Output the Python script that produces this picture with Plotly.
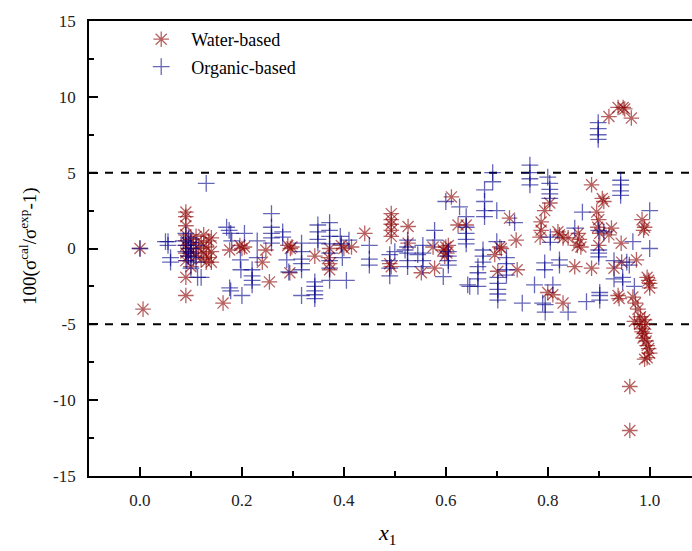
import plotly.graph_objects as go

# ---------------- data ----------------
water_x = [0.0, 0.006,
           0.09, 0.09, 0.09, 0.09, 0.09, 0.09, 0.09, 0.09, 0.09, 0.09,
           0.10, 0.10, 0.105, 0.11, 0.11, 0.115, 0.12, 0.12, 0.125, 0.125,
           0.13, 0.13, 0.135, 0.135, 0.14, 0.14, 0.14, 0.10, 0.095, 0.095,
           0.163, 0.176, 0.196, 0.20, 0.205, 0.24, 0.247, 0.254,
           0.29, 0.295, 0.298, 0.294,
           0.343, 0.37, 0.372, 0.372, 0.372,
           0.395, 0.40, 0.415, 0.441,
           0.493, 0.493, 0.493, 0.493, 0.493, 0.493, 0.49,
           0.526, 0.526, 0.552, 0.575, 0.578,
           0.595, 0.598, 0.60, 0.602, 0.605,
           0.611, 0.624, 0.64,
           0.706, 0.709, 0.696, 0.702, 0.725, 0.738, 0.74,
           0.794, 0.804, 0.787, 0.787, 0.785,
           0.80, 0.81, 0.82, 0.823, 0.83, 0.84, 0.83,
           0.853, 0.86, 0.862, 0.858, 0.865,
           0.886, 0.886, 0.896, 0.90, 0.898, 0.902, 0.907, 0.91,
           0.92, 0.90, 0.925, 0.944, 0.93, 0.945, 0.974,
           0.92, 0.938, 0.948, 0.951, 0.964,
           0.938, 0.94,
           0.985, 0.99, 0.988,
           0.995, 1.0, 1.0, 0.998,
           0.967, 0.972, 0.977, 0.982, 0.97, 0.98, 0.985, 0.99, 0.987,
           0.993, 0.995, 0.998, 1.0, 0.995, 0.99, 0.985, 0.992, 0.99,
           0.961, 0.961]
water_y = [0.0, -4.0,
           2.4, 2.1, 1.5, 0.9, 0.5, 0.2, -0.3, -0.8, -1.9, -3.1,
           0.6, -0.2, 0.3, -0.5, 0.8, 0.0, -0.7, 0.4, 0.9, -0.3,
           0.1, -0.9, 0.5, -0.6, 0.7, -0.2, -0.9, -1.2, -0.5, 0.0,
           -3.6, -0.1, 0.2, 0.0, 0.1, -0.9, -0.1, -2.2,
           0.2, 0.0, 0.1, -1.6,
           -0.5, -0.6, -1.0, -1.4, 0.0,
           0.2, 0.0, 0.1, 1.0,
           2.3, 1.9, 1.6, 1.2, 0.8, -1.2, -1.0,
           1.45, 0.35, -1.6, 0.1, -1.3,
           -0.1, -0.5, 0.1, -0.3, 0.2,
           3.4, 1.55, 1.55,
           0.1, 0.0, -0.4, -1.5, 2.0, 0.55, -1.4,
           2.5, 3.0, 1.75, 1.2, 0.75,
           -2.9, -3.05, 1.1, 0.9, 0.7, 0.7, -3.6,
           -1.2, 1.0, 0.6, 0.2, 0.1,
           4.2, -1.3, 2.4, 1.9, 1.4, 1.0, 3.3, 3.1,
           0.9, 0.2, 1.35, 0.35, -1.3, -0.9, -0.75,
           8.7, 9.3, 9.3, 9.2, 8.6,
           -3.1, -3.3,
           1.9, 1.4, 1.2,
           -1.9, -2.3, -2.6, -2.1,
           -3.2, -3.6, -4.0, -4.5, -4.8, -5.0, -5.3, -5.6, -5.9,
           -6.1, -6.4, -6.6, -6.9, -7.2, -7.3, -5.5, -5.0, -4.7,
           -9.1, -12.0]

organic_x = [0.0,
             0.05, 0.055, 0.055, 0.06, 0.06,
             0.085, 0.09, 0.09, 0.095, 0.095, 0.10, 0.10, 0.10, 0.105, 0.11,
             0.11, 0.113, 0.12, 0.09, 0.092, 0.10,
             0.13,
             0.17, 0.175, 0.178, 0.18, 0.205, 0.197, 0.198, 0.176, 0.178, 0.20,
             0.22, 0.22, 0.22, 0.22, 0.23, 0.23,
             0.258, 0.258, 0.258, 0.258, 0.258,
             0.28, 0.28, 0.288, 0.292,
             0.317, 0.317, 0.317, 0.317, 0.317, 0.317,
             0.343, 0.343, 0.343, 0.343, 0.343,
             0.349, 0.349, 0.349, 0.349,
             0.372, 0.372, 0.372, 0.372, 0.372, 0.372, 0.372, 0.372,
             0.393, 0.395, 0.397, 0.405, 0.41,
             0.45, 0.45, 0.45,
             0.49, 0.49, 0.49, 0.49, 0.50,
             0.525, 0.525, 0.525, 0.525, 0.525, 0.52, 0.545,
             0.555, 0.555, 0.555, 0.555,
             0.578, 0.578, 0.595,
             0.605, 0.605, 0.605, 0.605,
             0.60, 0.627,
             0.64, 0.64, 0.64, 0.64, 0.643, 0.64,
             0.647, 0.663, 0.663, 0.663, 0.663, 0.673, 0.673, 0.673,
             0.676, 0.676, 0.676, 0.676, 0.692, 0.692, 0.70, 0.70,
             0.702, 0.702, 0.702, 0.702, 0.702,
             0.719, 0.719, 0.719, 0.719, 0.735, 0.75,
             0.765, 0.765, 0.765, 0.765,
             0.774, 0.79, 0.794, 0.794, 0.795, 0.795,
             0.80, 0.804, 0.804, 0.804, 0.804, 0.805, 0.805,
             0.81, 0.823, 0.823, 0.84, 0.853, 0.868, 0.876,
             0.899, 0.899, 0.899, 0.899,
             0.90, 0.91, 0.90, 0.90, 0.90, 0.902, 0.902, 0.902,
             0.93, 0.93, 0.943, 0.943, 0.943, 0.943,
             0.947, 0.947, 0.955, 0.96, 0.967, 0.97,
             1.0, 1.0]
organic_y = [0.0,
             0.45, 0.45, 0.2, -0.6, -0.9,
             0.5, 0.2, -0.2, 0.7, -0.5, 0.4, 0.0, -0.3, -0.6, 0.2,
             -0.9, -1.9, -1.9, 1.0, -0.8, -1.3,
             4.3,
             1.4, 1.2, 1.0, 0.5, 1.0, -0.75, -1.4, -2.6, -2.8, -3.1,
             -1.4, -1.8, -2.1, -2.4, 0.5, -0.6,
             2.3, 1.4, 1.0, 0.7, 0.35,
             1.1, 0.75, -0.75, -1.55,
             0.35, -0.2, -0.7, -1.0, -1.4, -3.1,
             -2.2, -2.5, -2.8, -3.05, -3.3,
             1.55, 1.1, 0.6, 0.35,
             1.7, 1.2, 0.8, 0.3, -0.3, -0.8, -1.3, -2.1,
             0.8, 0.3, -0.6, -2.1, 0.55,
             0.2, -0.7, -1.1,
             -0.4, -0.8, -1.3, -1.8, -0.2,
             0.55, 0.1, -0.3, -0.8, -1.2, -0.1, -0.4,
             0.2, -0.3, -0.8, -1.2,
             1.2, 0.55, -1.85,
             -0.2, -0.5, -0.8, -1.1,
             3.1, 2.75,
             1.4, 1.0, 0.6, 0.3, -2.4, 2.1,
             -2.5, -1.2, -1.6, -2.0, -2.5, -0.1, -0.5, -0.9,
             3.86, 3.1, 2.5, 2.1, 5.0, 4.4, 2.5, 0.45,
             -1.9, -2.3, -2.7, -3.0, -3.4,
             -0.6, -1.0, -1.4, -1.75, 1.7, -3.6,
             5.5, 5.0, 4.6, 4.2,
             -2.4, -3.6, -0.95, -1.4, -3.7, -4.2,
             4.7, 4.3, 3.9, 3.6, 3.3, 0.75, 0.4,
             -2.4, -0.75, -1.1, -4.2, 1.35, 2.4, -3.5,
             8.3, 7.9, 7.5, 7.2,
             1.2, 1.1, -0.1, -0.3, -0.55, -2.9, -3.1, -3.4,
             -2.0, -0.8, 4.5, 4.2, 3.8, 3.5,
             -1.9, -2.2, -0.9, -1.1, 0.45, -2.5,
             2.5, 0.0]

x_tick_vals = [0.0, 0.2, 0.4, 0.6, 0.8, 1.0]
x_tick_text = ["0.0", "0.2", "0.4", "0.6", "0.8", "1.0"]
y_tick_vals = [-15, -10, -5, 0, 5, 10, 15]
y_tick_text = ["-15", "-10", "-5", "0", "5", "10", "15"]
limit_lines = [5, -5]

# ---------------- figure ----------------
SERIF = "'Times New Roman', 'Liberation Serif', 'DejaVu Serif', serif"
water_col = "rgba(139,0,0,0.62)"
org_col = "rgba(0,0,139,0.6)"

fig = go.Figure()
fig.add_trace(go.Scatter(
    x=water_x, y=water_y, mode="markers", name="Water-based",
    legendgroup="w",
    marker=dict(symbol="asterisk-open", size=13, color=water_col,
                line=dict(color=water_col, width=1.3)),
))
fig.add_trace(go.Scatter(
    x=organic_x, y=organic_y, mode="markers", name="Organic-based",
    legendgroup="o",
    marker=dict(symbol="cross-thin-open", size=12, color=org_col,
                line=dict(color=org_col, width=1.3)),
))

for yv in limit_lines:
    fig.add_shape(type="line", xref="paper", yref="y", x0=0, x1=1, y0=yv, y1=yv,
                  line=dict(color="black", width=2, dash="8px,8px"), layer="below")

fig.update_layout(
    width=692, height=551,
    margin=dict(l=89, r=0, t=21, b=75),
    paper_bgcolor="white", plot_bgcolor="white",
    font=dict(family=SERIF, size=16, color="black"),
    showlegend=True,
    legend=dict(x=0.07, y=1.0, xanchor="left", yanchor="top",
                bgcolor="rgba(0,0,0,0)", font=dict(family=SERIF, size=18, color="black"),
                itemwidth=50, traceorder="grouped", tracegroupgap=1),
)
fig.update_xaxes(
    range=[-0.1, 1.083], showgrid=False, zeroline=False,
    showline=True, linecolor="black", linewidth=1.8, mirror=True,
    ticks="inside", ticklen=9, tickwidth=1.5, tickcolor="black",
    tickvals=x_tick_vals, ticktext=x_tick_text, ticklabelstandoff=8,
    tickfont=dict(family=SERIF, size=17, color="#222"),
    minor=dict(dtick=0.1, tick0=0, ticks="inside", ticklen=5, tickwidth=1.5, tickcolor="black"),
)
fig.update_yaxes(
    range=[-15, 15], showgrid=False, zeroline=False,
    showline=True, linecolor="black", linewidth=1.8, mirror=False,
    ticks="inside", ticklen=9, tickwidth=1.5, tickcolor="black",
    tickvals=y_tick_vals, ticktext=y_tick_text, ticklabelstandoff=8,
    tickfont=dict(family=SERIF, size=17, color="#222"),
    minor=dict(dtick=2.5, tick0=0, ticks="inside", ticklen=5, tickwidth=1.5, tickcolor="black"),
)

fig.add_annotation(text="100(σ<sup>cal</sup>/σ<sup>exp</sup>-1)", textangle=-90,
                   xref="paper", yref="paper", x=-0.1, y=0.505,
                   xanchor="center", yanchor="middle", showarrow=False,
                   font=dict(family=SERIF, size=19, color="black"))
fig.add_annotation(text="<i>x</i><sub>1</sub>",
                   xref="paper", yref="paper", x=0.495, y=-0.128,
                   xanchor="center", yanchor="middle", showarrow=False,
                   font=dict(family=SERIF, size=22, color="black"))

fig.write_html("out.html")
